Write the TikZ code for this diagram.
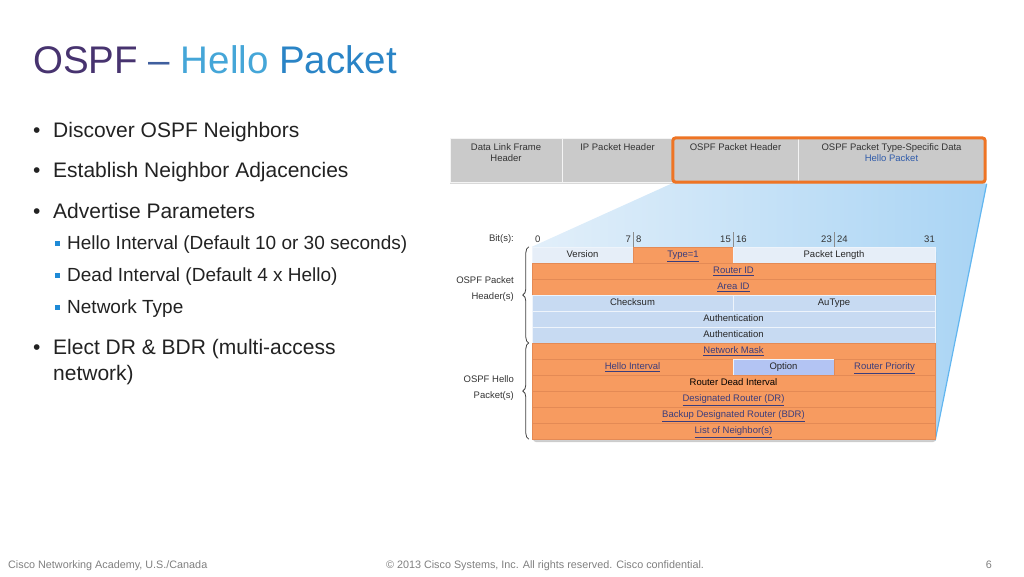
\documentclass[tikz,border=0pt]{standalone}
\usepackage{fontspec}
\setmainfont{Liberation Sans}
\usetikzlibrary{shadows,decorations.pathreplacing,fit}

\definecolor{titlePurple}{HTML}{47336F}
\definecolor{titleDash}{HTML}{3F5F9E}
\definecolor{titleBlue}{HTML}{45A6D8}
\definecolor{titleBlue2}{HTML}{2A84C6}
\definecolor{textDark}{HTML}{222222}
\definecolor{markBlue}{HTML}{1E8AD6}
\definecolor{barGray}{HTML}{CACACA}
\definecolor{frameOrange}{HTML}{EE7424}
\definecolor{cellOrange}{HTML}{F79B60}
\definecolor{cellLine}{HTML}{E48A55}
\definecolor{cellBlue}{HTML}{C7DAF2}
\definecolor{cellPale}{HTML}{E6EEF8}
\definecolor{linkBlue}{HTML}{3B3D7C}
\definecolor{helloBlue}{HTML}{2F5BAA}
\definecolor{projL}{HTML}{E2EFFA}
\definecolor{projR}{HTML}{A9D4F4}
\definecolor{projEdge}{HTML}{62B6F0}
\definecolor{footGray}{HTML}{7F7F7F}

\newcommand\tblfont{\fontsize{9.5}{11}\selectfont}
\newcommand\lnk[1]{\smash{\underline{#1}}}

\pgfdeclarelayer{bg}
\pgfsetlayers{bg,main}

\tikzstyle{cell} = [draw=cellLine, minimum height=16pt, inner sep=0pt,
                    text height=7pt, text depth=2pt, font=\tblfont, text=black!85]
\tikzstyle{orng} = [cell, fill=cellOrange, text=linkBlue]
\tikzstyle{blu}  = [cell, fill=cellBlue, draw=white!70!cellBlue]
\tikzstyle{barcell} = [draw=white!80!barGray, fill=barGray, minimum height=44pt,
                       inner sep=0pt]
\tikzstyle{bartext} = [anchor=north, align=center, font=\tblfont, text=black!80,
                       inner sep=0pt]
\tikzstyle{bitlbl} = [font=\tblfont, text=black!80, inner sep=0pt]
\tikzstyle{bullet} = [anchor=base west, inner sep=0pt, text=textDark,
                      font=\fontsize{21}{25}\selectfont]
\tikzstyle{subbullet} = [anchor=base west, inner sep=0pt, text=textDark,
                         font=\fontsize{19}{22}\selectfont]
\tikzstyle{footer} = [inner sep=0pt, text=footGray, font=\fontsize{10.8}{12}\selectfont]
\tikzstyle{brace} = [decorate, decoration={brace, amplitude=6pt}, black!75, thick]

\begin{document}
\begin{tikzpicture}[x=1pt,y=-1pt]
  \useasboundingbox (0,0) rectangle (1024,576);

  % title
  \node[anchor=base west, inner sep=0pt, font=\fontsize{38.5}{44}\selectfont] at (33,73) (title)
    {\color{titlePurple}OSPF \color{titleDash}– \color{titleBlue}Hello \color{titleBlue2}Packet};

  % bullets
  \node[bullet] at (33,137) (b1m) {•};
  \node[bullet] at (53,137) (b1) {Discover OSPF Neighbors};
  \node[bullet] at (33,177) (b2m) {•};
  \node[bullet] at (53,177) (b2) {Establish Neighbor Adjacencies};
  \node[bullet] at (33,218) (b3m) {•};
  \node[bullet] at (53,218) (b3) {Advertise Parameters};
  \node[fill=markBlue, inner sep=0pt, minimum size=5pt] at (57,243) (s1m) {};
  \node[subbullet] at (67,249) (s1) {Hello Interval (Default 10 or 30 seconds)};
  \node[fill=markBlue, inner sep=0pt, minimum size=5pt] at (57,275) (s2m) {};
  \node[subbullet] at (67,281) (s2) {Dead Interval (Default 4 x Hello)};
  \node[fill=markBlue, inner sep=0pt, minimum size=5pt] at (57,307) (s3m) {};
  \node[subbullet] at (67,313) (s3) {Network Type};
  \node[bullet] at (33,354) (b4m) {•};
  \node[bullet] at (53,354) (b4) {Elect DR \& BDR (multi-access};
  \node[bullet] at (53,380) (b4b) {network)};

  % frame bar
  \node[barcell, minimum width=112pt, drop shadow={opacity=0.3,shadow xshift=0pt,shadow yshift=-2pt}] at (506,160) (dlh) {};
  \node[barcell, minimum width=111pt, drop shadow={opacity=0.3,shadow xshift=0pt,shadow yshift=-2pt}] at (617.5,160) (iph) {};
  \node[barcell, minimum width=125pt, drop shadow={opacity=0.3,shadow xshift=0pt,shadow yshift=-2pt}] at (735.5,160) (oph) {};
  \node[barcell, minimum width=187pt, drop shadow={opacity=0.3,shadow xshift=0pt,shadow yshift=-2pt}] at (891.5,160) (tsd) {};
  \node[bartext] at ([yshift=-6pt]dlh.north) {Data Link Frame\\Header};
  \node[bartext] at ([yshift=-6pt]iph.north) {IP Packet Header};
  \node[bartext] at ([yshift=-6pt]oph.north) {OSPF Packet Header};
  \node[bartext] at ([yshift=-6pt]tsd.north) {OSPF Packet Type-Specific Data\\
                                              \textcolor{helloBlue}{Hello Packet}};
  \node[draw=frameOrange, line width=3pt, rounded corners=3pt, inner sep=0pt,
        fit=(oph)(tsd)] (sel) {};

  % packet table
  \node[fill=cellPale, rounded corners=3pt, minimum width=403pt, minimum height=193pt,
        inner sep=0pt, drop shadow={opacity=0.4,shadow xshift=1pt,shadow yshift=-2pt}]
        at (733.5,343.5) (tbl) {};
  \node[blu, fill=cellPale, minimum width=101pt] at (582.5,255) (ver) {Version};
  \node[orng, minimum width=100pt] at (683,255) (typ) {\lnk{Type=1}};
  \node[blu, fill=cellPale, minimum width=202pt] at (834,255) (len) {Packet Length};
  \node[orng, minimum width=403pt] at (733.5,271) (rid) {\lnk{Router ID}};
  \node[orng, minimum width=403pt] at (733.5,287) (aid) {\lnk{Area ID}};
  \node[blu, minimum width=201pt] at (632.5,303) (chk) {Checksum};
  \node[blu, minimum width=202pt] at (834,303) (aut) {AuType};
  \node[blu, minimum width=403pt] at (733.5,319) (au1) {Authentication};
  \node[blu, minimum width=403pt] at (733.5,335) (au2) {Authentication};
  \node[orng, minimum width=403pt] at (733.5,351) (msk) {\lnk{Network Mask}};
  \node[orng, minimum width=201pt] at (632.5,367) (hel) {\lnk{Hello Interval}};
  \node[blu, fill=cellBlue!90!blue, minimum width=101pt] at (783.5,367) (opt) {Option};
  \node[orng, minimum width=101pt] at (884.5,367) (pri) {\lnk{Router Priority}};
  \node[orng, text=black, minimum width=403pt] at (733.5,383) (dead) {Router Dead Interval};
  \node[orng, minimum width=403pt] at (733.5,399) (dr) {\lnk{Designated Router (DR)}};
  \node[orng, minimum width=403pt] at (733.5,415) (bdr) {\lnk{Backup Designated Router (BDR)}};
  \node[orng, minimum width=403pt] at (733.5,431) (nbr) {\lnk{List of Neighbor(s)}};

  % projection of the selected headers
  \begin{pgfonlayer}{bg}
    \shade[left color=projL, right color=projR]
      (sel.south west) -- (sel.south east) -- (tbl.south east) -- (ver.north west) -- cycle;
    \draw[projEdge, line width=1.2pt] (sel.south east) -- (tbl.south east);
  \end{pgfonlayer}

  % bit numbers
  \node[bitlbl, anchor=east] at (514,239) (bits) {Bit(s):};
  \node[bitlbl, anchor=west] at (535,239) (b0) {0};
  \node[bitlbl, anchor=east] at (631,239) (b7) {7};
  \node[bitlbl, anchor=west] at (636,239) (b8) {8};
  \node[bitlbl, anchor=east] at (731,239) (b15) {15};
  \node[bitlbl, anchor=west] at (736,239) (b16) {16};
  \node[bitlbl, anchor=east] at (832,239) (b23) {23};
  \node[bitlbl, anchor=west] at (837,239) (b24) {24};
  \node[bitlbl, anchor=east] at (935,239) (b31) {31};
  \draw[black!45] (typ.north west) -- ++(0,-15);
  \draw[black!45] (typ.north east) -- ++(0,-15);
  \draw[black!45] (pri.west |- len.north) -- ++(0,-15);

  % braces
  \draw[brace] ([xshift=-3pt]au2.south west) -- ([xshift=-3pt]ver.north west);
  \draw[brace] ([xshift=-3pt]nbr.south west) -- ([xshift=-3pt]msk.north west);
  \node[bitlbl, anchor=east, align=right, font=\fontsize{9.5}{16}\selectfont]
    at (514,289) (hdrlbl) {OSPF Packet\\Header(s)};
  \node[bitlbl, anchor=east, align=right, font=\fontsize{9.5}{16}\selectfont]
    at (514,388) (hellolbl) {OSPF Hello\\Packet(s)};

  % footer
  \node[footer, anchor=base west] at (8,568) (f1) {Cisco Networking Academy, U.S./Canada};
  \node[footer, anchor=base] at (545,568) (f2)
    {© 2013 Cisco Systems, Inc. All rights reserved. Cisco confidential.};
  \node[footer, anchor=base east] at (992,568) (f3) {6};
\end{tikzpicture}
\end{document}
